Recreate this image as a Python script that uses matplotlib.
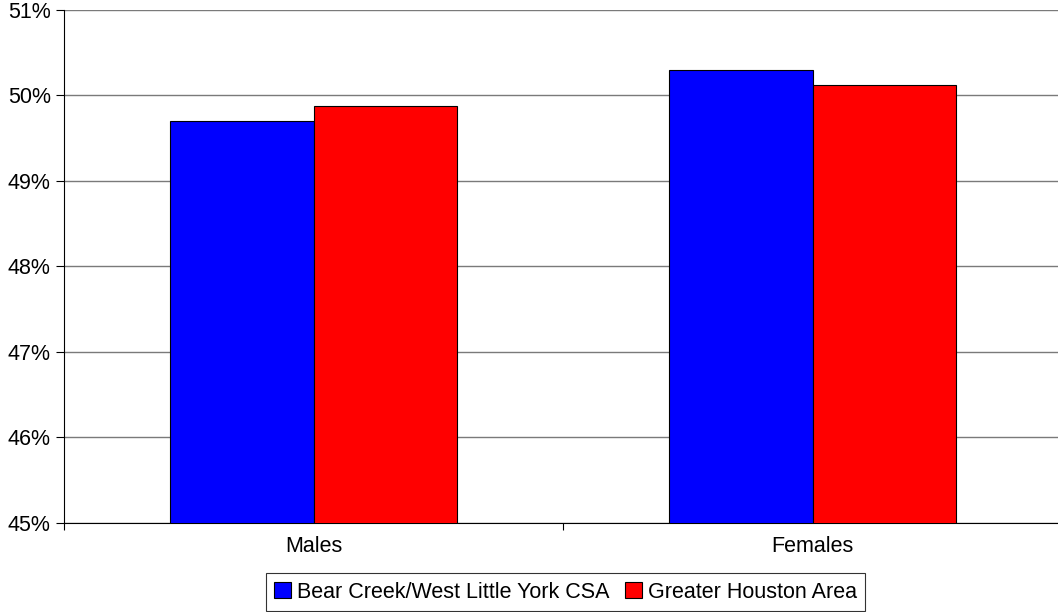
import numpy as np
import matplotlib.pyplot as plt
from matplotlib.ticker import FuncFormatter

plt.rcParams['font.family'] = ['Liberation Sans', 'DejaVu Sans']

categories = ['Males', 'Females']
series_names = ['Bear Creek/West Little York CSA', 'Greater Houston Area']
bear_creek = [49.70, 50.30]
houston = [49.88, 50.12]
colors = ['#0000ff', '#ff0000']

fs = 15.5

fig = plt.figure(figsize=(10.58, 6.12), dpi=100, facecolor='white')
ax = fig.add_axes([64 / 1058, 1 - 522.5 / 612, 998 / 1058, 512.5 / 612])

x = np.arange(len(categories))
w = 0.2866
ax.bar(x - w / 2, bear_creek, w, color=colors[0], edgecolor='black',
       linewidth=0.8, label=series_names[0], zorder=3)
ax.bar(x + w / 2, houston, w, color=colors[1], edgecolor='black',
       linewidth=0.8, label=series_names[1], zorder=3)

ax.set_ylim(45, 51)
ax.set_xlim(-0.5, len(categories) - 0.5)
ax.set_yticks(np.arange(45, 52, 1))
ax.yaxis.set_major_formatter(FuncFormatter(lambda v, p: f'{v:.0f}%'))
ax.yaxis.grid(True, color='#7a7a7a', linewidth=1.0, zorder=0)

# labels at category centres, tick marks at category boundaries
ax.set_xticks(x)
ax.set_xticklabels(categories)
ax.set_xticks(np.arange(-0.5, len(categories), 1), minor=True)
ax.tick_params(axis='x', which='major', length=0, pad=10, labelsize=fs)
ax.tick_params(axis='x', which='minor', length=5, width=0.8, color='black')
ax.tick_params(axis='y', length=6, width=0.8, pad=3.5, labelsize=fs)

for s in ['top', 'right']:
    ax.spines[s].set_visible(False)
for s in ['left', 'bottom']:
    ax.spines[s].set_color('black')
    ax.spines[s].set_linewidth(0.8)

leg = fig.legend(loc='center', bbox_to_anchor=(565.5 / 1058, 1 - 592 / 612),
                 ncol=2, fontsize=fs, frameon=True, fancybox=False,
                 handlelength=0.79, handleheight=0.75, handletextpad=0.28,
                 columnspacing=0.7, borderpad=0.4)
leg.get_frame().set_edgecolor('black')
leg.get_frame().set_linewidth(0.8)

plt.savefig('out.png', dpi=100, facecolor='white')
